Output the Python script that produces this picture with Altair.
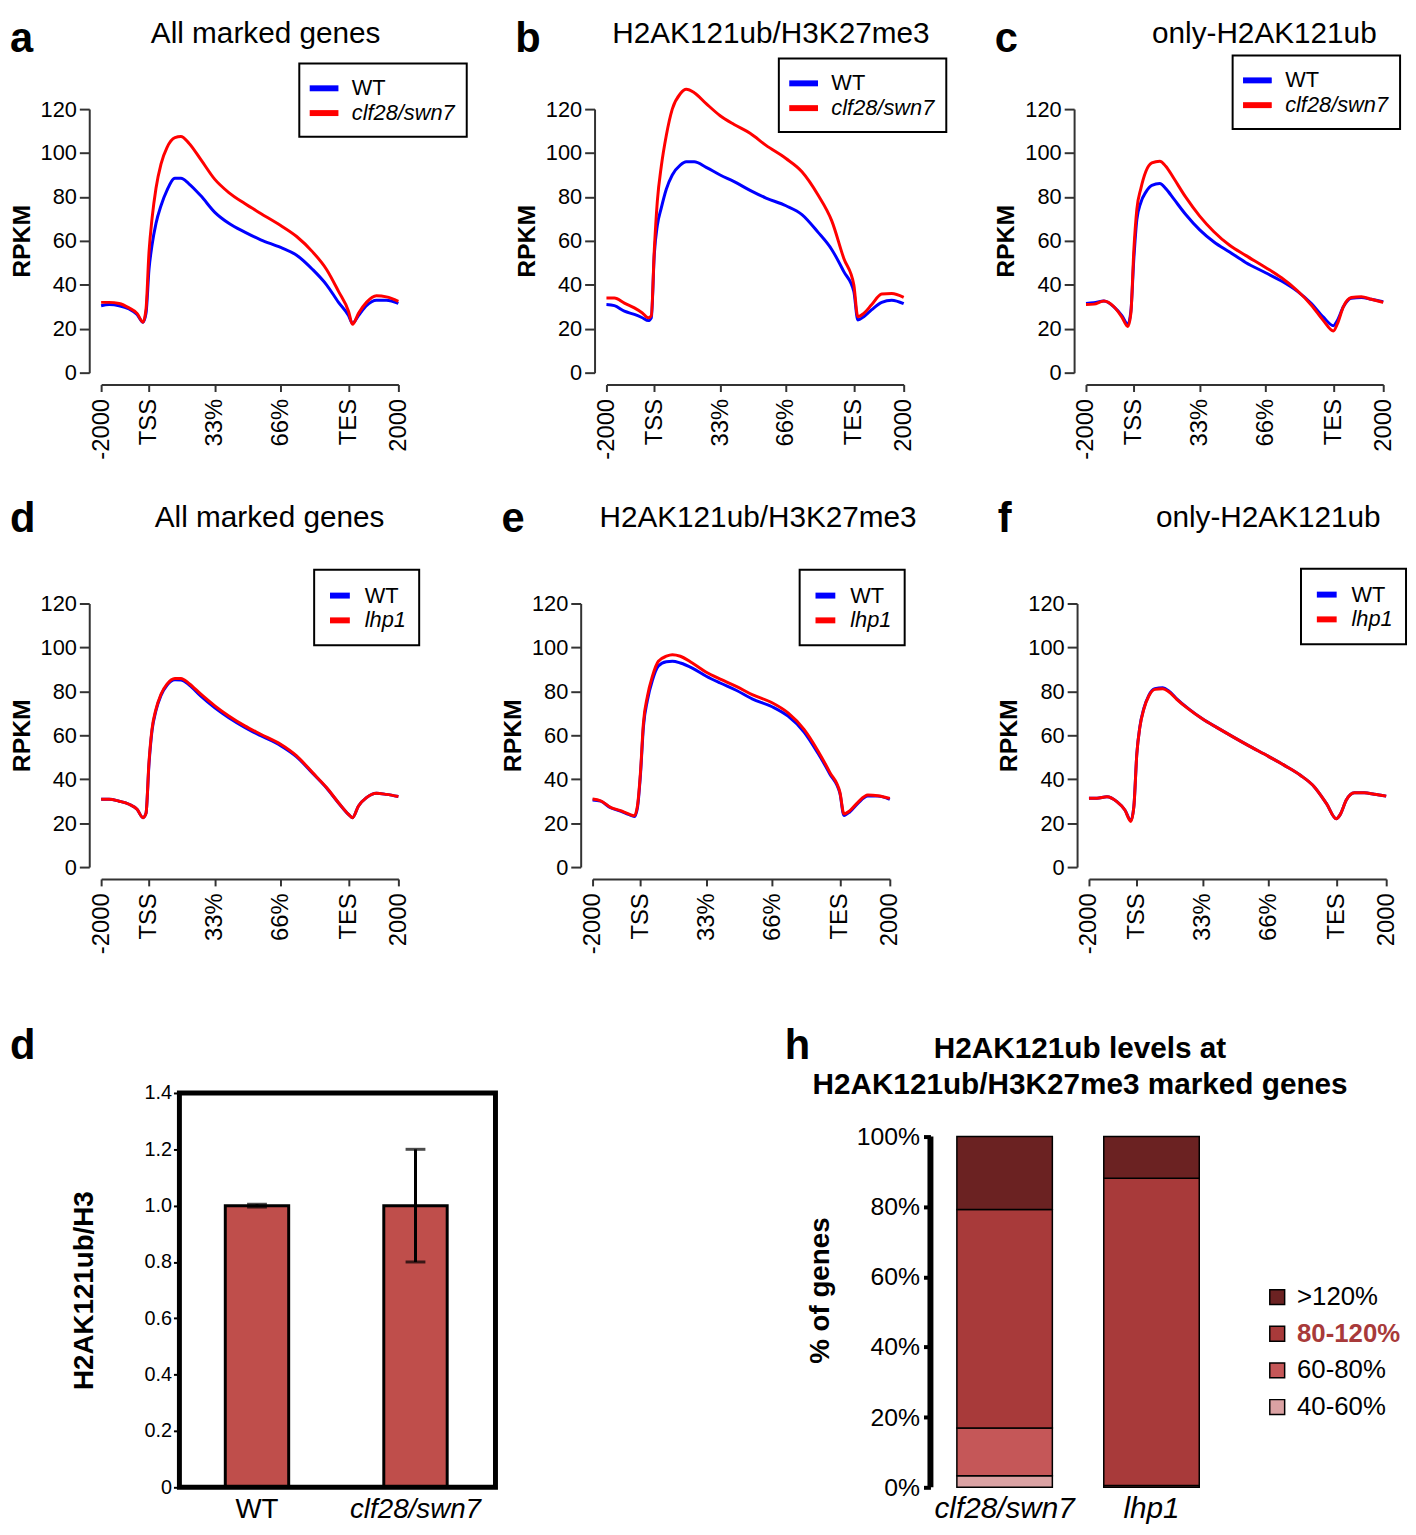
import altair as alt
import pandas as pd

FONT = "Liberation Sans"

# ---------------- profile plots (a-f) ----------------
X_POS = [-24, -20, -15, -10, -6, -3, -1.5, 0, 1.5, 3.5, 6, 9, 13, 16, 20, 26, 33, 40,
         48, 56, 66, 74, 82, 89, 95, 100, 102, 105, 109, 114, 119, 125]
TICK_POS = [-24, 0, 33, 66, 100, 125]
TICK_LABELS = ["-2000", "TSS", "33%", "66%", "TES", "2000"]
Y_TICKS = [0, 20, 40, 60, 80, 100, 120]

A_WT = [30.5, 31, 30.5, 29, 26.5, 23, 27, 47, 58, 68, 76, 83, 88.5, 88.5, 86, 80.5, 73, 68,
        64, 60.5, 57, 53.5, 47, 40, 32, 26, 22.5, 26, 30.5, 33, 33, 31.5]
A_MUT = [32, 32, 31.5, 29.5, 27, 23, 29, 55, 70, 84, 95, 102.5, 107, 107.5, 104.5, 97, 88, 82,
         77, 72.5, 67, 62, 55, 47, 37, 28, 22, 27, 32, 35, 34.5, 32.5]
B_WT = [31, 30.5, 28, 26.5, 25, 23.7, 25, 54, 67, 75, 83.5, 90, 94.5, 96, 96, 93.5, 90, 87,
        83, 79.5, 76, 72, 64, 56, 46, 37, 24, 25.5, 28.7, 32, 33, 31.4]
B_MUT = [34, 34, 31.7, 29.5, 27.2, 25, 26, 56, 78, 94, 108, 120, 127, 129, 127.5, 122.5, 117, 113,
         109, 103.5, 97.5, 91.5, 81, 69, 52, 40, 25.5, 27, 31, 35.8, 36, 34.3]
C_WT = [31.5, 31.8, 32.6, 30, 26, 22, 28, 52, 69.7, 77.5, 82.2, 85.3, 86.1, 83.8, 79.1, 72, 65, 59.6,
        54.9, 50.2, 45.5, 41.7, 37, 31.5, 25.3, 21.4, 23.7, 30, 33.9, 34.2, 33.4, 32.3]
C_MUT = [31, 31.2, 32.6, 30, 25.3, 21, 27, 56, 74.4, 83.8, 91.6, 95.5, 96.3, 94, 88.5, 79.9, 71.3, 64.3,
         58, 53.4, 47.9, 43.2, 37.3, 30.7, 23.7, 19, 22.2, 30, 34.2, 34.6, 33.4, 32]
D_WT = [30.9, 30.9, 30, 28.6, 26.3, 22.5, 24.5, 47, 62, 71.3, 78.2, 82.8, 85.3, 85.2, 83, 77.8, 72.5, 68,
        63.6, 59.8, 55.3, 50.2, 42.7, 36, 29.2, 24, 22.5, 27.8, 31.6, 33.6, 33.1, 32.1]
D_MUT = [30.9, 30.9, 30, 28.6, 26.3, 22.5, 24.5, 48, 62.8, 71.9, 78.7, 83.3, 85.9, 85.9, 83.6, 78.7, 73.4, 68.8,
         64.3, 60.5, 55.9, 50.6, 43, 36.2, 29.3, 24, 22.5, 27.8, 31.6, 33.6, 33.1, 32.1]
E_WT = [30.5, 30, 27, 25.5, 24, 23, 27, 42, 64, 76, 85, 91.5, 93.5, 93.7, 92.9, 90.6, 86.9, 83.8,
        80.5, 76.6, 73, 68.7, 61.5, 51.8, 42.3, 33.5, 23.5, 25.2, 29, 32.3, 32.3, 30.8]
E_MUT = [31, 30.2, 27.2, 25.7, 24.2, 23.4, 27.9, 43, 65.7, 77.8, 86.9, 93.7, 96, 96.7, 96, 92.9, 88.7, 85.6,
         82.3, 78.5, 74.8, 70.2, 62.7, 52.9, 43, 34, 24.2, 25.7, 29.5, 32.8, 32.5, 31.3]
F_WT = [31.3, 31.3, 32, 29.8, 26, 21.2, 27.5, 51.6, 63.8, 72.2, 78.2, 81.2, 81.6, 80.2, 76.6, 72, 67.4, 63.6,
        59.4, 55.3, 50.4, 46.3, 41.8, 36.5, 29, 22, 24, 30.5, 33.8, 33.8, 33.2, 32.3]
F_MUT = [31.3, 31.3, 32, 29.8, 26, 20.8, 27.5, 51.6, 63.6, 71.9, 77.9, 80.9, 81.2, 79.8, 76.4, 71.9, 67.4, 63.6,
         59.4, 55.3, 50.4, 46.3, 41.8, 36.5, 29, 22, 24, 30.5, 33.8, 33.8, 33.2, 32.3]

PANEL_LETTERS = ["a", "b", "c", "d", "e", "f"]
PANEL_TITLES = ["All marked genes", "H2AK121ub/H3K27me3", "only-H2AK121ub"] * 2
MUT_NAMES = ["clf28/swn7"] * 3 + ["lhp1"] * 3

LABEL_EXPR = "".join(f"datum.value == {p} ? '{l}' : " for p, l in zip(TICK_POS, TICK_LABELS)) + "''"

AX_COL = "#333333"


def profile(letter, title, wt, mut, mut_name, lx, ly, sym, pad, off,
            title_x, letter_y, title_y):
    n = len(X_POS)
    df = pd.DataFrame({
        "pos": X_POS + X_POS,
        "rpkm": wt + mut,
        "sample": ["WT"] * n + [mut_name] * n,
    })
    lines = alt.Chart(df).mark_line(strokeWidth=3, interpolate="monotone").encode(
        x=alt.X("pos:Q",
                scale=alt.Scale(domain=[X_POS[0], X_POS[-1]], nice=False, zero=False),
                axis=alt.Axis(values=TICK_POS, labelExpr=LABEL_EXPR, labelAngle=270,
                              offset=12, tickSize=7, tickWidth=2, domainWidth=2,
                              domainColor=AX_COL, tickColor=AX_COL, labelColor="black",
                              labelFontSize=24, labelPadding=7, title=None, grid=False)),
        y=alt.Y("rpkm:Q",
                scale=alt.Scale(domain=[0, 120], nice=False),
                axis=alt.Axis(values=Y_TICKS, offset=12, tickSize=10, tickWidth=2,
                              domainWidth=2, domainColor=AX_COL, tickColor=AX_COL,
                              labelColor="black", labelFontSize=22, labelPadding=3,
                              title="RPKM", titleFontSize=25, titleFontWeight="bold",
                              titlePadding=6, titleColor="black", grid=False)),
        color=alt.Color("sample:N",
                        scale=alt.Scale(domain=["WT", mut_name], range=["#0000ff", "#ff0000"]),
                        legend=alt.Legend(title=None, orient="none", legendX=lx, legendY=ly,
                                          symbolType=sym, symbolStrokeWidth=6,
                                          symbolSize=400, labelFontSize=22,
                                          labelFontStyle={"expr": "datum.label == 'WT' ? 'normal' : 'italic'"},
                                          labelColor="black", labelOffset=off,
                                          padding=pad, rowPadding=0,
                                          strokeColor="black", fillColor="white")),
    )
    let = alt.Chart(pd.DataFrame({"t": [letter]})).mark_text(
        align="left", baseline="alphabetic", fontSize=42, fontWeight="bold", font=FONT, color="black"
    ).encode(text="t:N", x=alt.value(-92), y=alt.value(letter_y))
    tit = alt.Chart(pd.DataFrame({"t": [title]})).mark_text(
        align="center", baseline="alphabetic", fontSize=30, font=FONT, color="black"
    ).encode(text="t:N", x=alt.value(title_x), y=alt.value(title_y))
    return alt.layer(lines, let, tit).properties(width=300, height=266)


LONG_SYM = "M-1.45,0H1.45"   # horizontal stroke, ~29 px at size 400
SHORT_SYM = "M-1,0H1"        # horizontal stroke, ~20 px at size 400
LEG = [
    (200, -46, LONG_SYM, 12, 15, 166),
    (174, -51, LONG_SYM, 12, 15, 166),
    (148, -54, LONG_SYM, 12, 15, 180),
    (215, -34, SHORT_SYM, 13, 12, 170),
    (209, -34, SHORT_SYM, 13, 12, 167),
    (214, -35, SHORT_SYM, 13, 12, 181),
]
SERIES = [(A_WT, A_MUT), (B_WT, B_MUT), (C_WT, C_MUT), (D_WT, D_MUT), (E_WT, E_MUT), (F_WT, F_MUT)]

panels = []
for i in range(6):
    lx, ly, sym, pad, off, tx = LEG[i]
    wt, mut = SERIES[i]
    row1 = i < 3
    panels.append(profile(PANEL_LETTERS[i], PANEL_TITLES[i], wt, mut, MUT_NAMES[i],
                          lx, ly, sym, pad, off, tx,
                          -58 if row1 else -72, -67 if row1 else -77))


def indep(c):
    return c.resolve_scale(color="independent").resolve_legend(color="independent")


row1 = indep(alt.hconcat(*panels[:3], spacing=45))
row2 = indep(alt.hconcat(*panels[3:], spacing=79))

# ---------------- bar chart (bottom d) ----------------
BAR_GENOTYPES = ["WT", "clf28/swn7"]
BAR_MEANS = [1.0, 1.0]
BAR_ERRORS = [0.005, 0.2]
BAR_Y_TICKS = [0, 0.2, 0.4, 0.6, 0.8, 1.0, 1.2, 1.4]

bar_df = pd.DataFrame({
    "genotype": BAR_GENOTYPES,
    "value": BAR_MEANS,
    "lo": [m - e for m, e in zip(BAR_MEANS, BAR_ERRORS)],
    "hi": [m + e for m, e in zip(BAR_MEANS, BAR_ERRORS)],
})

BAR_W, BAR_H, FRAME_LEFT = 398, 398, 79
bar_x = alt.X("genotype:N", sort=BAR_GENOTYPES,
              scale=alt.Scale(paddingInner=0.6, paddingOuter=0.544, align=0.72),
              axis=alt.Axis(title=None, labelAngle=0, domain=False, ticks=False,
                            labelFontSize=28, labelPadding=8, labelColor="black",
                            labelFontStyle={"expr": "datum.value == 'WT' ? 'normal' : 'italic'"}))
bars = alt.Chart(bar_df).mark_bar(fill="#bf4e4b", stroke="black", strokeWidth=3).encode(
    x=bar_x,
    y=alt.Y("value:Q", scale=alt.Scale(domain=[0, 1.4], nice=False),
            axis=alt.Axis(values=BAR_Y_TICKS, offset=-FRAME_LEFT,
                          labelExpr="datum.value == 0 ? '0' : format(datum.value, '.1f')",
                          tickSize=6, tickWidth=2, tickColor="black", domain=False, grid=False,
                          labelFontSize=20, labelColor="black", labelPadding=2,
                          title="H2AK121ub/H3", titleFontSize=28, titleFontWeight="bold",
                          titleColor="black", titlePadding=46)),
)
err_rule = alt.Chart(bar_df).mark_rule(strokeWidth=3, color="black").encode(
    x=alt.X("genotype:N", sort=BAR_GENOTYPES), y="lo:Q", y2="hi:Q")
cap_lo = alt.Chart(bar_df).mark_tick(size=20, thickness=3, color="black").encode(
    x=alt.X("genotype:N", sort=BAR_GENOTYPES), y="lo:Q")
cap_hi = alt.Chart(bar_df).mark_tick(size=20, thickness=3, color="black").encode(
    x=alt.X("genotype:N", sort=BAR_GENOTYPES), y="hi:Q")
frame = alt.Chart(pd.DataFrame({"f": [0]})).mark_rect(
    filled=False, stroke="black", strokeWidth=5
).encode(x=alt.value(FRAME_LEFT), x2=alt.value(BAR_W), y=alt.value(0), y2=alt.value(BAR_H))
let_d = alt.Chart(pd.DataFrame({"t": ["d"]})).mark_text(
    align="left", baseline="alphabetic", fontSize=42, fontWeight="bold", font=FONT, color="black"
).encode(text="t:N", x=alt.value(-92), y=alt.value(-34))

bar_chart = alt.layer(bars, err_rule, cap_lo, cap_hi, frame, let_d).properties(
    width=BAR_W, height=BAR_H)

# ---------------- stacked bars (h) ----------------
H_GENOTYPES = ["clf28/swn7", "lhp1"]
H_LEVELS = ["40-60%", "60-80%", "80-120%", ">120%"]          # bottom -> top
H_CLF = [3.3, 13.6, 62.3, 20.8]
H_LHP1 = [0.0, 0.5, 87.6, 11.9]
H_COLORS = ["#dba2a3", "#c55758", "#a83a3a", "#6b2222"]      # same order as H_LEVELS
H_Y_TICKS = [0, 20, 40, 60, 80, 100]
H_TITLE = "H2AK121ub levels at\nH2AK121ub/H3K27me3 marked genes"

h_df = pd.DataFrame({
    "genotype": [H_GENOTYPES[0]] * 4 + [H_GENOTYPES[1]] * 4,
    "level": H_LEVELS * 2,
    "rank": list(range(4)) * 2,
    "pct": H_CLF + H_LHP1,
})

h_bars = alt.Chart(h_df).mark_bar(stroke="black", strokeWidth=1.5).encode(
    x=alt.X("genotype:N", sort=H_GENOTYPES,
            scale=alt.Scale(paddingInner=0.35, paddingOuter=0.18),
            axis=alt.Axis(title=None, labelAngle=0, domain=False, ticks=False,
                          labelFontSize=30, labelFontStyle="italic", labelColor="black",
                          labelPadding=6)),
    y=alt.Y("pct:Q", stack="zero", scale=alt.Scale(domain=[0, 112.4], nice=False),
            axis=alt.Axis(values=H_Y_TICKS, labelExpr="datum.value + '%'", domain=False,
                          tickSize=7, tickWidth=4, tickColor="black", grid=False,
                          labelFontSize=25, labelColor="black", labelPadding=4,
                          title="% of genes", titleFontSize=28, titleFontWeight="bold",
                          titleColor="black", titlePadding=22)),
    color=alt.Color("level:N",
                    scale=alt.Scale(domain=H_LEVELS[::-1], range=H_COLORS[::-1]),
                    legend=alt.Legend(title=None, orient="none", legendX=337, legendY=193,
                                      symbolType="square", symbolSize=225,
                                      symbolStrokeColor="black", symbolStrokeWidth=1.5,
                                      labelFontSize=26, labelOffset=7, rowPadding=11, padding=0,
                                      strokeColor="transparent",
                                      labelColor={"expr": "datum.label == '80-120%' ? '#a83a3a' : 'black'"},
                                      labelFontWeight={"expr": "datum.label == '80-120%' ? 'bold' : 'normal'"})),
    order=alt.Order("rank:Q", sort="ascending"),
)
h_axis_line = alt.Chart(pd.DataFrame({"y0": [H_Y_TICKS[0]], "y1": [H_Y_TICKS[-1]]})).mark_rule(
    strokeWidth=6, color="black").encode(x=alt.value(0), y="y0:Q", y2="y1:Q")
h_title = alt.Chart(pd.DataFrame({"t": [H_TITLE]})).mark_text(
    align="center", baseline="alphabetic", fontSize=30, fontWeight="bold", font=FONT,
    lineBreak="\n", lineHeight=36, color="black"
).encode(text="t:N", x=alt.value(151), y=alt.value(-35))
let_h = alt.Chart(pd.DataFrame({"t": ["h"]})).mark_text(
    align="left", baseline="alphabetic", fontSize=42, fontWeight="bold", font=FONT, color="black"
).encode(text="t:N", x=alt.value(-147), y=alt.value(-34))

h_chart = alt.layer(h_bars, h_axis_line, h_title, let_h).properties(width=298, height=BAR_H)

row3 = indep(alt.hconcat(bar_chart, h_chart, spacing=288))

top_rows = indep(alt.vconcat(row1, row2, spacing=38))

chart = indep(alt.vconcat(top_rows, row3, spacing=71)).properties(
    padding={"left": 0, "top": 2, "right": 0, "bottom": -4}
).configure(font=FONT).configure_view(stroke="transparent").configure_legend(strokeWidth=2)

chart.save("out.html", embed_options={"renderer": "svg", "actions": False})
